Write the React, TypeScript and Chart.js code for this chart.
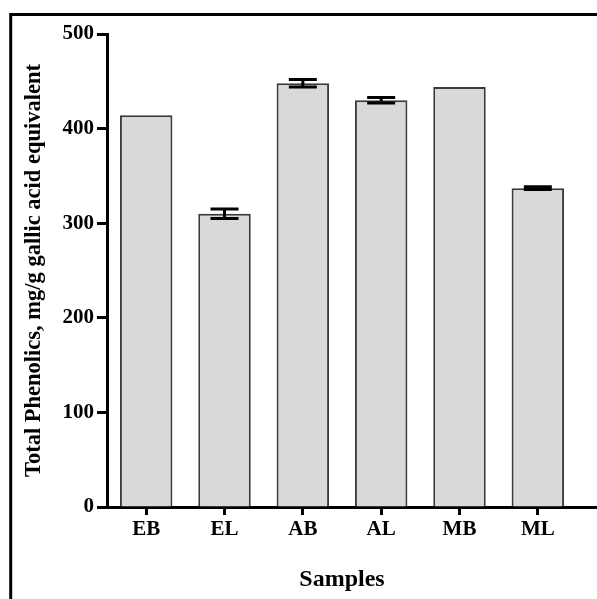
import React, { useEffect, useRef } from "react";
import { Chart, registerables } from "chart.js";

Chart.register(...registerables);

const categories = ["EB", "EL", "AB", "AL", "MB", "ML"];
const values = [414, 310, 448, 430, 444, 337];
const errors = [0, 5, 4, 3, 0, 1.5];
const yTitle = "Total Phenolics, mg/g gallic acid equivalent";
const xTitle = "Samples";

const FONT = "'Liberation Serif', 'Times New Roman', serif";

const errorBarPlugin = {
  id: "errorBars",
  afterDatasetsDraw(chart: any) {
    const ctx = chart.ctx;
    const meta = chart.getDatasetMeta(0);
    const y = chart.scales.y;
    ctx.save();
    ctx.strokeStyle = "#000";
    ctx.lineWidth = 3;
    meta.data.forEach((bar: any, i: number) => {
      const e = errors[i];
      if (!e) return;
      const x = bar.x;
      const yHi = y.getPixelForValue(values[i] + e);
      const yLo = y.getPixelForValue(values[i] - e);
      ctx.beginPath();
      ctx.moveTo(x, yHi);
      ctx.lineTo(x, yLo);
      ctx.moveTo(x - 14, yHi);
      ctx.lineTo(x + 14, yHi);
      ctx.moveTo(x - 14, yLo);
      ctx.lineTo(x + 14, yLo);
      ctx.stroke();
    });
    ctx.restore();
  },
};

const framePlugin = {
  id: "frame",
  afterDraw(chart: any) {
    const ctx = chart.ctx;
    const area = chart.chartArea;
    ctx.save();
    ctx.strokeStyle = "#000";
    ctx.lineWidth = 3;
    ctx.beginPath();
    ctx.moveTo(area.right - 1, area.bottom + 0.5);
    ctx.lineTo(chart.width, area.bottom + 0.5);
    ctx.stroke();
    ctx.lineWidth = 3;
    ctx.beginPath();
    ctx.moveTo(10.7, chart.height);
    ctx.lineTo(10.7, 14.5);
    ctx.lineTo(chart.width, 14.5);
    ctx.stroke();
    ctx.restore();
  },
};

export default function App() {
  const ref = useRef<HTMLCanvasElement>(null);

  useEffect(() => {
    document.body.style.margin = "0";
    const canvas = ref.current;
    if (!canvas) return;
    const chart = new Chart(canvas, {
      type: "bar",
      data: {
        labels: categories,
        datasets: [
          {
            data: values,
            backgroundColor: "#d9d9d9",
            borderColor: "#3a3a3a",
            borderWidth: 2,
            barPercentage: 0.67,
            categoryPercentage: 1,
          },
        ],
      },
      options: {
        responsive: false,
        animation: false,
        layout: { padding: { left: 14, right: 20, top: 34, bottom: 0 } },
        plugins: {
          legend: { display: false },
          tooltip: { enabled: false },
        },
        scales: {
          x: {
            type: "category",
            grid: {
              offset: false,
              drawOnChartArea: false,
              tickLength: 8,
              tickWidth: 3,
              tickColor: "#000",
            },
            border: { display: true, width: 3, color: "#000" },
            ticks: {
              color: "#000",
              padding: 2,
              font: { family: FONT, size: 21, weight: "bold" },
            },
            title: {
              display: true,
              text: xTitle,
              color: "#000",
              font: { family: FONT, size: 24, weight: "bold" },
              padding: { top: 0, bottom: 5 },
            },
            afterFit(scale: any) {
              scale.height = 92;
            },
          },
          y: {
            min: 0,
            max: 500,
            ticks: {
              stepSize: 100,
              color: "#000",
              padding: 3,
              font: { family: FONT, size: 21, weight: "bold" },
            },
            grid: {
              drawOnChartArea: false,
              tickLength: 10,
              tickWidth: 3,
              tickColor: "#000",
            },
            border: { display: true, width: 3, color: "#000" },
            title: {
              display: true,
              text: yTitle,
              color: "#000",
              font: { family: FONT, size: 22.5, weight: "bold" },
              padding: { top: 7, bottom: 0 },
            },
            afterFit(scale: any) {
              scale.width = 93;
            },
          },
        },
      },
      plugins: [errorBarPlugin, framePlugin],
    });
    return () => chart.destroy();
  }, []);

  return (
    <div style={{ width: 597, height: 599, position: "relative" }}>
      <canvas ref={ref} width={597} height={599} style={{ display: "block", width: 597, height: 599 }} />
    </div>
  );
}
